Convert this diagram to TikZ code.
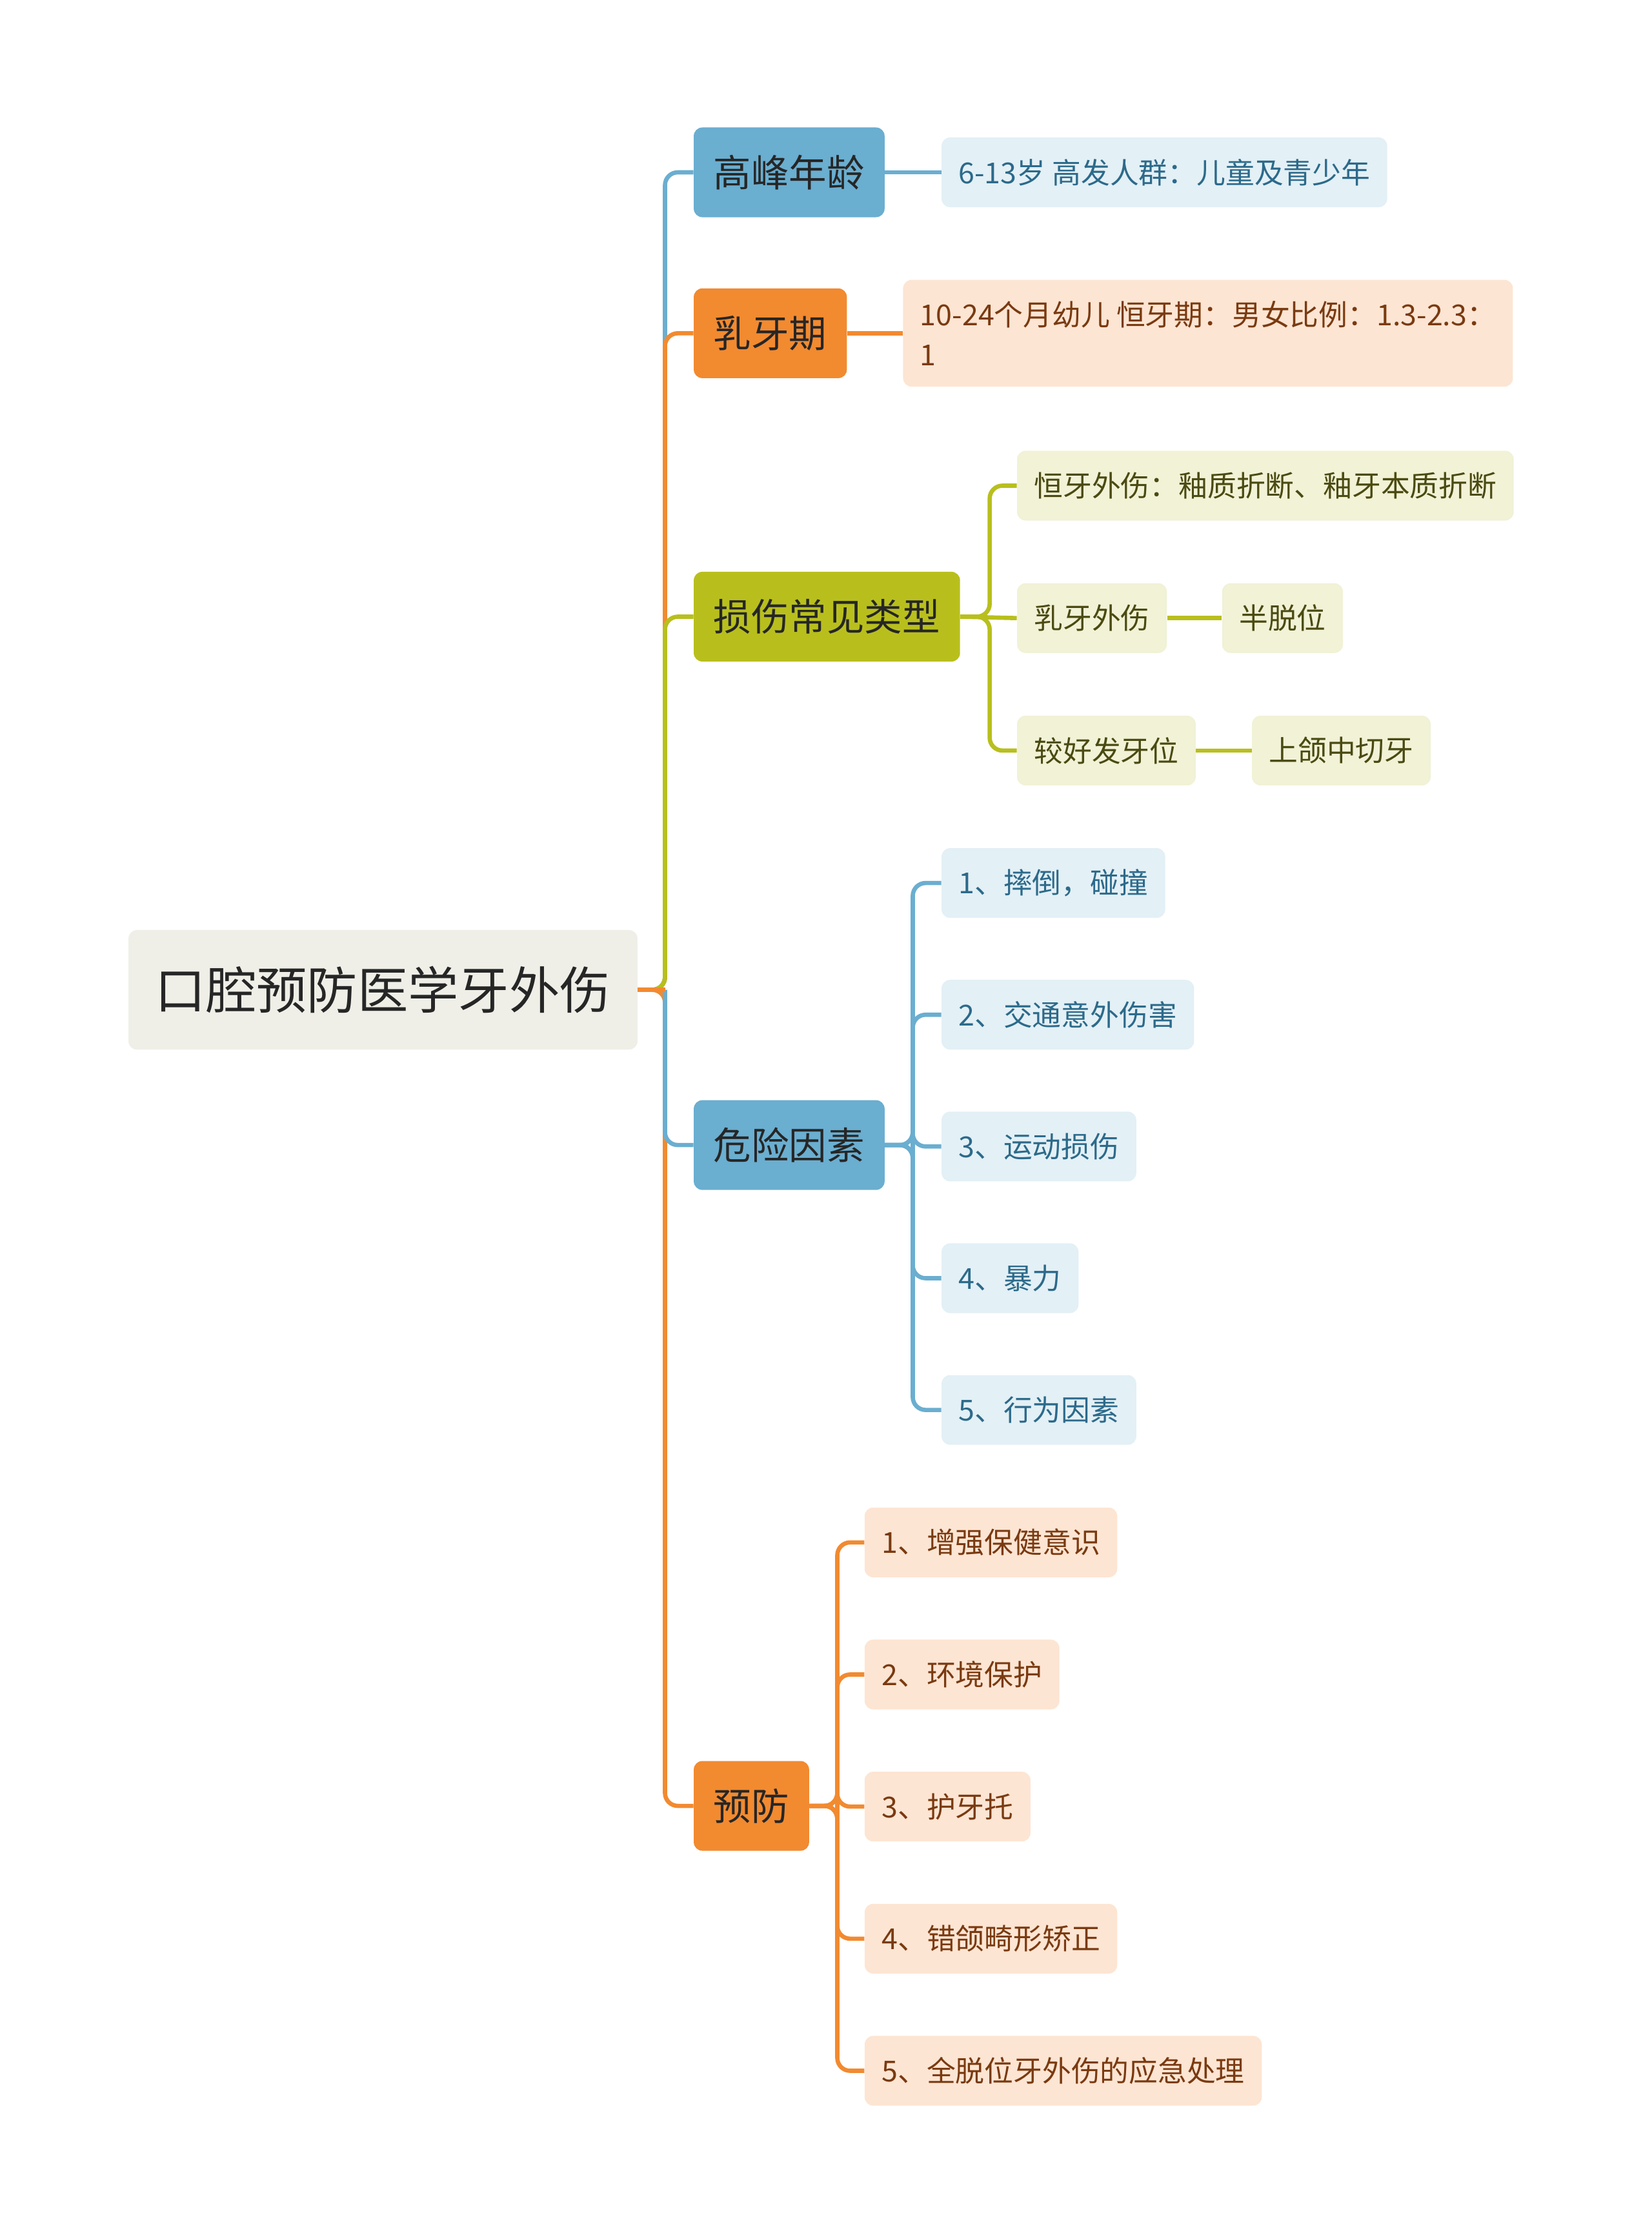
\documentclass[tikz,border=0pt]{standalone}
\usepackage{fontspec}
\setmainfont{Noto Sans CJK SC}
\begin{document}
\begin{tikzpicture}[x=1pt,y=-1pt,
  base/.style={rounded corners=6pt,inner xsep=12pt,inner ysep=0pt,anchor=west},
  rootn/.style={base,fill=rootc,minimum height=84pt,font=\fontsize{35.5}{40}\selectfont,text=black!85,inner xsep=19pt},
  br/.style={base,minimum height=63pt,font=\fontsize{26.5}{30}\selectfont,text=black!85,inner xsep=14pt},
  lf/.style={base,minimum height=49pt,font=\fontsize{20.3}{28}\selectfont},
  lb/.style={lf,fill=lbluef,text=lbluet},
  lo/.style={lf,fill=lorf,text=lort},
  lg/.style={lf,fill=lgrf,text=lgrt},
  cn/.style={line width=3pt,rounded corners=9pt}]
\definecolor{rootc}{HTML}{EFEFE8}
\definecolor{bluec}{HTML}{6AAED0}
\definecolor{orc}{HTML}{F28A30}
\definecolor{grc}{HTML}{B8BF1D}
\definecolor{lbluef}{HTML}{E3F0F6}
\definecolor{lbluet}{HTML}{2C6A8A}
\definecolor{lorf}{HTML}{FDE5D3}
\definecolor{lort}{HTML}{7A3A10}
\definecolor{lgrf}{HTML}{F1F2D6}
\definecolor{lgrt}{HTML}{4A4A12}
\useasboundingbox (0,0) rectangle (1160,1563);
\node[rootn] (root) at (90,695) {口腔预防医学牙外伤};
\node[br,fill=bluec] (b1) at (487,121) {高峰年龄};
\node[br,fill=orc] (b2) at (487,234) {乳牙期};
\node[br,fill=grc] (b3) at (487,433) {损伤常见类型};
\node[br,fill=bluec] (b4) at (487,804) {危险因素};
\node[br,fill=orc] (b5) at (487,1268) {预防};
\coordinate (j) at (467,695);
\draw[cn,bluec] (root.east) -- (j) |- (b1.west);
\draw[cn,orc] (root.east) -- (j) |- (b2.west);
\draw[cn,grc] (root.east) -- (j) |- (b3.west);
\draw[cn,orc] (root.east) -- (j) |- (b5.west);
\draw[cn,bluec] (j) |- (b4.west);
\draw[line width=3pt,orc] (root.east) -- (j);
% leaves
\node[lb] (l1) at (661,121) {6-13岁 高发人群：儿童及青少年};
\draw[cn,bluec] (b1.east) -- (l1.west);
\node[lo,minimum height=75pt,align=left] (l2) at (634,234) {10-24个月幼儿 恒牙期：男女比例：1.3-2.3：\\1};
\draw[cn,orc] (b2.east) -- (l2.west);
\node[lg] (g1) at (714,341) {恒牙外伤：釉质折断、釉牙本质折断};
\node[lg] (g2) at (714,434) {乳牙外伤};
\node[lg] (g2a) at (858,434) {半脱位};
\node[lg] (g3) at (714,527) {较好发牙位};
\node[lg] (g3a) at (879,527) {上颌中切牙};
\coordinate (jg) at (695,433);
\draw[cn,grc] (b3.east) -- (jg) |- (g1.west);
\draw[cn,grc] (b3.east) -- (jg) |- (g3.west);
\draw[cn,grc] (b3.east) -- (g2.west);
\draw[cn,grc] (g2.east) -- (g2a.west);
\draw[cn,grc] (g3.east) -- (g3a.west);
\coordinate (jb) at (641,804);
\foreach \t [count=\i] in {1、摔倒，碰撞,2、交通意外伤害,3、运动损伤,4、暴力,5、行为因素}{
  \node[lb] (r\i) at (661,{620+92.5*(\i-1)}) {\t};
  \draw[cn,bluec] (b4.east) -- (jb) |- (r\i.west);
}
\coordinate (jo) at (588,1268);
\foreach \t [count=\i] in {1、增强保健意识,2、环境保护,3、护牙托,4、错颌畸形矫正,5、全脱位牙外伤的应急处理}{
  \node[lo] (p\i) at (607,{1083+92.75*(\i-1)}) {\t};
  \draw[cn,orc] (b5.east) -- (jo) |- (p\i.west);
}
\end{tikzpicture}
\end{document}
